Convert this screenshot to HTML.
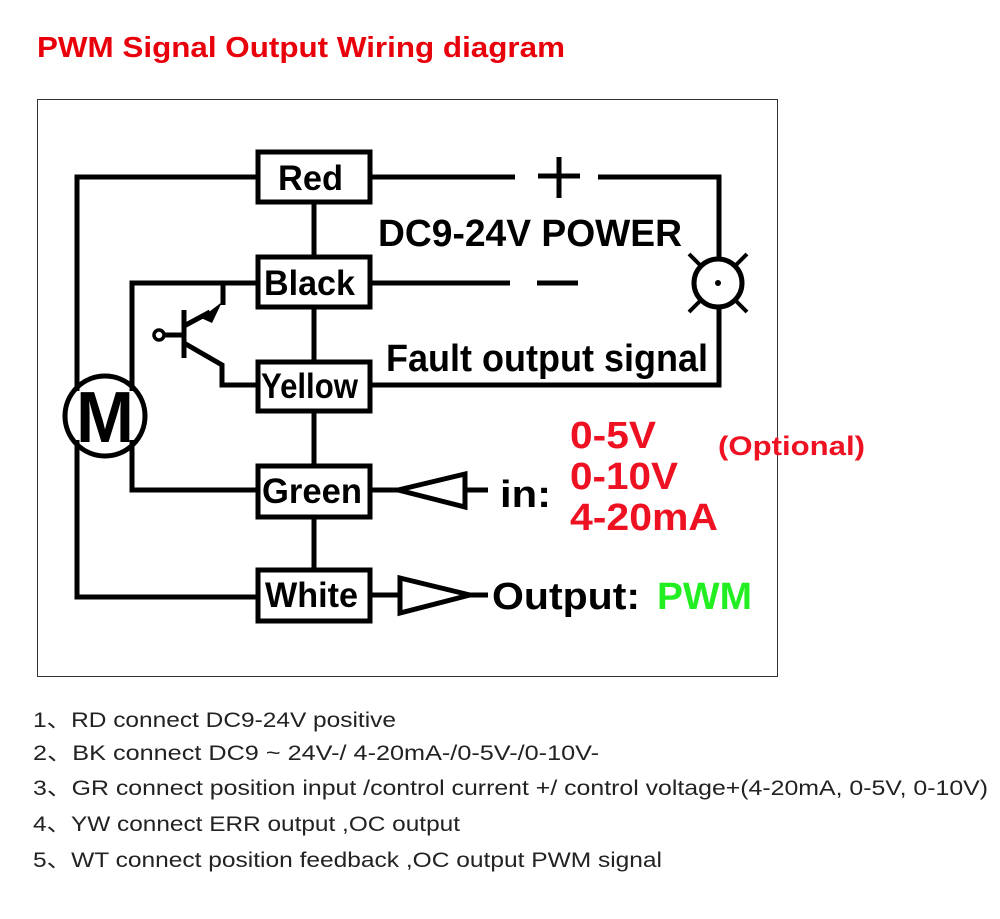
<!DOCTYPE html>
<html><head><meta charset="utf-8"><style>html,body{margin:0;padding:0;background:#fff}svg{display:block}</style></head>
<body>
<svg width="1000" height="919" viewBox="0 0 1000 919" xmlns="http://www.w3.org/2000/svg" font-family="Liberation Sans, Arial, sans-serif">
<text x="37" y="57" font-size="29" font-weight="bold" fill="#e8000b" textLength="528" lengthAdjust="spacingAndGlyphs">PWM Signal Output Wiring diagram</text>
<rect x="37.5" y="99.5" width="740" height="577" fill="none" stroke="#333" stroke-width="1"/>
<g stroke="#000" stroke-width="5" fill="none" stroke-linecap="butt" stroke-linejoin="miter">
<line x1="314" y1="204" x2="314" y2="256"/>
<line x1="314" y1="308" x2="314" y2="361"/>
<line x1="314" y1="412" x2="314" y2="465"/>
<line x1="314" y1="518" x2="314" y2="569"/>
<rect x="258" y="152" width="112" height="50"/>
<rect x="258" y="257" width="112" height="50"/>
<rect x="258" y="362" width="112" height="49"/>
<rect x="258" y="466" width="112" height="51"/>
<rect x="258" y="570" width="112" height="51"/>
<polyline points="258,177 77,177 77,391"/>
<polyline points="77,440 77,597 258,597"/>
<polyline points="258,283 132,283 132,391"/>
<polyline points="132,440 132,490 258,490"/>
<circle cx="105" cy="416" r="40"/>
<line x1="223" y1="283" x2="223" y2="305"/>
<line x1="184" y1="310" x2="184" y2="358"/>
<line x1="164" y1="335" x2="184" y2="335"/>
<line x1="184" y1="326" x2="210" y2="312"/>
<polyline points="184,343 222,365 222,385 258,385"/>
<circle cx="159" cy="335" r="5" stroke-width="3.5"/>
<line x1="370" y1="177" x2="515" y2="177"/>
<polyline points="598,177 719,177 719,259"/>
<line x1="370" y1="283" x2="510" y2="283"/>
<polyline points="719,307 719,385 370,385"/>
<circle cx="718" cy="283" r="24"/>
<line x1="701" y1="266" x2="689" y2="254" stroke-width="4"/>
<line x1="735" y1="266" x2="747" y2="254" stroke-width="4"/>
<line x1="701" y1="300" x2="689" y2="312" stroke-width="4"/>
<line x1="735" y1="300" x2="747" y2="312" stroke-width="4"/>
<line x1="538" y1="176" x2="580" y2="176"/>
<line x1="559" y1="157" x2="559" y2="198"/>
<line x1="537" y1="283" x2="578" y2="283"/>
<line x1="370" y1="490" x2="398" y2="490"/>
<polygon points="398,490 465,474 465,507"/>
<line x1="465" y1="490" x2="488" y2="490"/>
<line x1="370" y1="595" x2="400" y2="595"/>
<polygon points="400,578 400,613 470,595"/>
<line x1="470" y1="595" x2="488" y2="595"/>
</g>
<circle cx="718" cy="283" r="3" fill="#000"/>
<polygon points="201,318 222,302 212,323" fill="#000"/>
<text x="105" y="442" font-size="72" font-weight="bold" text-anchor="middle" textLength="58" lengthAdjust="spacingAndGlyphs">M</text>
<g font-weight="bold" font-size="35" fill="#000">
<text x="278" y="190" textLength="65" lengthAdjust="spacingAndGlyphs">Red</text>
<text x="264" y="295" textLength="91" lengthAdjust="spacingAndGlyphs">Black</text>
<text x="261" y="398" textLength="97" lengthAdjust="spacingAndGlyphs">Yellow</text>
<text x="262" y="503" textLength="100" lengthAdjust="spacingAndGlyphs">Green</text>
<text x="265" y="607" textLength="93" lengthAdjust="spacingAndGlyphs">White</text>
<text x="378" y="246" font-size="38" textLength="304" lengthAdjust="spacingAndGlyphs">DC9-24V POWER</text>
<text x="386" y="371" font-size="38" textLength="322" lengthAdjust="spacingAndGlyphs">Fault output signal</text>
<text x="500" y="507" font-size="38" textLength="51" lengthAdjust="spacingAndGlyphs">in:</text>
<text x="492" y="609" font-size="38" textLength="148" lengthAdjust="spacingAndGlyphs">Output:</text>
</g>
<g font-weight="bold" fill="#ee1122">
<text x="570" y="448" font-size="38" textLength="86" lengthAdjust="spacingAndGlyphs">0-5V</text>
<text x="570" y="489" font-size="38" textLength="108" lengthAdjust="spacingAndGlyphs">0-10V</text>
<text x="570" y="530" font-size="38" textLength="148" lengthAdjust="spacingAndGlyphs">4-20mA</text>
<text x="718" y="455" font-size="27" textLength="147" lengthAdjust="spacingAndGlyphs">(Optional)</text>
</g>
<text x="657" y="609" font-size="38" font-weight="bold" fill="#22ee22" textLength="95" lengthAdjust="spacingAndGlyphs">PWM</text>
<g font-size="21" fill="#222" font-family="Liberation Sans, Noto Sans CJK SC, sans-serif">
<text x="33" y="727" textLength="363" lengthAdjust="spacingAndGlyphs">1、RD connect DC9-24V positive</text>
<text x="33" y="760" textLength="566" lengthAdjust="spacingAndGlyphs">2、BK connect DC9 ~ 24V-/ 4-20mA-/0-5V-/0-10V-</text>
<text x="33" y="795" textLength="955" lengthAdjust="spacingAndGlyphs">3、GR connect position input /control current +/ control voltage+(4-20mA, 0-5V, 0-10V)</text>
<text x="33" y="831" textLength="427" lengthAdjust="spacingAndGlyphs">4、YW connect ERR output ,OC output</text>
<text x="33" y="867" textLength="629" lengthAdjust="spacingAndGlyphs">5、WT connect position feedback ,OC output PWM signal</text>
</g>
</svg>
</body></html>
